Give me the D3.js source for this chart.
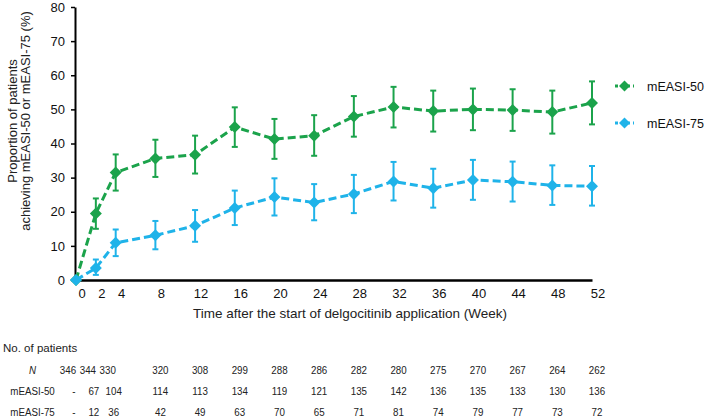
<!DOCTYPE html>
<html>
<head>
<meta charset="utf-8">
<script src="https://cdn.jsdelivr.net/npm/d3@7"></script>
<style>
  html, body { margin: 0; padding: 0; background: #fff; }
  svg { display: block; font-family: "Liberation Sans", Arial, sans-serif; }
</style>
</head>
<body>
<svg id="chart" width="709" height="418"></svg>
<script>
// ---- data ----
const weeks = [0, 2, 4, 8, 12, 16, 20, 24, 28, 32, 36, 40, 44, 48, 52];
const yTicks = [0, 10, 20, 30, 40, 50, 60, 70, 80];
const seriesNames = ["mEASI-50", "mEASI-75"];

const easi50 = [0, 19.5, 31.5, 35.6, 36.7, 44.8, 41.3, 42.3, 47.9, 50.7, 49.5, 50.0, 49.8, 49.2, 51.9];
const easi50Low = [null, 15.0, 26.2, 30.2, 31.2, 39.0, 35.5, 36.4, 42.0, 44.7, 43.5, 43.9, 43.7, 42.9, 45.6];
const easi50High = [null, 23.9, 36.8, 41.1, 42.3, 50.6, 47.2, 48.3, 53.9, 56.6, 55.5, 56.1, 55.9, 55.5, 58.2];

const easi75 = [0, 3.5, 10.9, 13.1, 15.9, 21.1, 24.3, 22.7, 25.2, 28.9, 26.9, 29.3, 28.8, 27.7, 27.5];
const easi75Low = [null, 1.5, 7.0, 9.0, 11.2, 16.1, 18.9, 17.5, 19.6, 23.3, 21.2, 23.5, 23.0, 22.0, 21.8];
const easi75High = [null, 6.0, 14.8, 17.3, 20.5, 26.2, 29.8, 28.1, 30.8, 34.6, 32.6, 35.2, 34.7, 33.6, 33.4];

const tableRowLabels = ["N", "mEASI-50", "mEASI-75"];
const nPatients = [346, 344, 330, 320, 308, 299, 288, 286, 282, 280, 275, 270, 267, 264, 262];
const nEasi50 = [null, 67, 104, 114, 113, 134, 119, 121, 135, 142, 136, 135, 133, 130, 136];
const nEasi75 = [null, 12, 36, 42, 49, 63, 70, 65, 71, 81, 74, 79, 77, 73, 72];

const yTitleLines = ["Proportion of patients", "achieving mEASI-50 or mEASI-75 (%)"];
const xTitle = "Time after the start of delgocitinib application (Week)";
const tableTitle = "No. of patients";

// ---- styles ----
const colors = { "mEASI-50": "#1ba34b", "mEASI-75": "#1fb3e9" };
const font = "Liberation Sans, Arial, sans-serif";

const svg = d3.select("#chart");

const x = d3.scaleLinear().domain([0, 52]).range([76, 592]);
const y = d3.scaleLinear().domain([0, 80]).range([280, 7]);

// Y axis
const yAxis = svg.append("g")
  .attr("transform", "translate(75,0)")
  .call(d3.axisLeft(y).tickValues(yTicks).tickSizeInner(4).tickSizeOuter(0).tickPadding(6));
yAxis.select(".domain").attr("stroke", "#000").attr("stroke-width", 2);
yAxis.selectAll(".tick line").attr("stroke", "#000").attr("stroke-width", 1.5);
yAxis.selectAll(".tick text").attr("font-size", 13).attr("font-family", font).attr("fill", "#111");

// X axis
const xAxis = svg.append("g")
  .attr("transform", "translate(0,280)")
  .call(d3.axisBottom(x).tickValues(weeks).tickSize(0).tickPadding(9));
xAxis.select(".domain").attr("stroke", "#000").attr("stroke-width", 2.5);
xAxis.selectAll(".tick text")
  .attr("font-size", 13).attr("font-family", font).attr("fill", "#111")
  .attr("dx", 5.5);

// Axis titles
const yTitle = svg.append("g").attr("font-family", font).attr("font-size", 13).attr("fill", "#222");
yTitle.append("text").attr("transform", "translate(16.5,121) rotate(-90)")
  .attr("text-anchor", "middle").text(yTitleLines[0]);
yTitle.append("text").attr("transform", "translate(29.5,121) rotate(-90)")
  .attr("text-anchor", "middle").text(yTitleLines[1]);

svg.append("text")
  .attr("x", 350).attr("y", 318)
  .attr("text-anchor", "middle")
  .attr("font-family", font).attr("font-size", 13.5).attr("fill", "#222")
  .attr("textLength", 314).attr("lengthAdjust", "spacingAndGlyphs")
  .text(xTitle);

// Series
const series = [
  { name: "mEASI-50", v: easi50, lo: easi50Low, hi: easi50High },
  { name: "mEASI-75", v: easi75, lo: easi75Low, hi: easi75High }
];

const diamond = (s) => `M0,${-s}L${s},0L0,${s}L${-s},0Z`;
const line = d3.line().x((d) => x(d.w)).y((d) => y(d.v));

series.forEach((s) => {
  const pts = weeks.map((w, i) => ({ w, v: s.v[i], lo: s.lo[i], hi: s.hi[i] }));
  const g = svg.append("g");
  const c = colors[s.name];
  const eb = pts.filter((d) => d.lo != null);
  g.selectAll("line.eb").data(eb).join("line")
    .attr("x1", (d) => x(d.w)).attr("x2", (d) => x(d.w))
    .attr("y1", (d) => y(d.lo)).attr("y2", (d) => y(d.hi))
    .attr("stroke", c).attr("stroke-width", 2);
  ["lo", "hi"].forEach((k) => {
    g.selectAll("line.cap" + k).data(eb).join("line")
      .attr("x1", (d) => x(d.w) - 3).attr("x2", (d) => x(d.w) + 3)
      .attr("y1", (d) => y(d[k])).attr("y2", (d) => y(d[k]))
      .attr("stroke", c).attr("stroke-width", 2);
  });
  g.append("path").datum(pts).attr("d", line)
    .attr("fill", "none").attr("stroke", c).attr("stroke-width", 3)
    .attr("stroke-dasharray", "8,4");
  g.selectAll("path.mk").data(pts).join("path")
    .attr("d", diamond(6))
    .attr("transform", (d) => `translate(${x(d.w)},${y(d.v)})`)
    .attr("fill", c);
});

// Legend
const legendY = [86, 123];
seriesNames.forEach((name, i) => {
  const g = svg.append("g").attr("transform", `translate(0,${legendY[i]})`);
  g.append("line").attr("x1", 615).attr("x2", 634).attr("y1", 0).attr("y2", 0)
    .attr("stroke", colors[name]).attr("stroke-width", 3).attr("stroke-dasharray", "3,3");
  g.append("path").attr("d", diamond(5.5)).attr("transform", "translate(624.5,0)").attr("fill", colors[name]);
  g.append("text").attr("x", 647).attr("y", 4.5)
    .attr("font-family", font).attr("font-size", 12.5).attr("fill", "#111").text(name);
});

// Table of patient numbers (slightly condensed text)
const tbl = svg.append("g").attr("font-family", font).attr("fill", "#222");
tbl.append("text").attr("x", 3).attr("y", 352).attr("font-size", 11.5).text(tableTitle);
const rowY = [374, 395, 416];
const rows = [nPatients, nEasi50, nEasi75];
const squeeze = 0.85;
tableRowLabels.forEach((lab, r) => {
  tbl.append("text").attr("transform", `translate(32.5,${rowY[r]}) scale(${squeeze},1)`)
    .attr("text-anchor", "middle")
    .attr("font-size", 11.5).attr("font-style", r === 0 ? "italic" : "normal").text(lab);
  const early = r === 0 ? -8 : -2;
  tbl.selectAll("text.r" + r).data(rows[r]).join("text")
    .attr("transform", (d, i) => `translate(${x(weeks[i]) + (weeks[i] < 8 ? early : 5)},${rowY[r]}) scale(${squeeze},1)`)
    .attr("text-anchor", "middle").attr("font-size", 11.5)
    .text((d) => d == null ? "-" : d);
});
</script>
</body>
</html>
